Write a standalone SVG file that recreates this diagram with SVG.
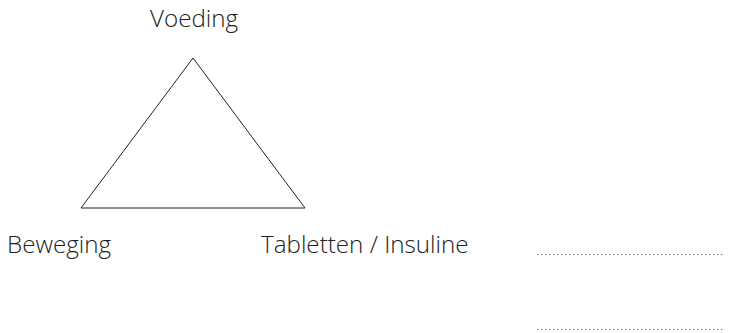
<svg xmlns="http://www.w3.org/2000/svg" width="730" height="333" viewBox="0 0 730 333">
<style>
.lbl{font-family:"Open Sans","Liberation Sans",sans-serif;font-size:24.2px;font-weight:300;fill:#222;}
.tri{fill:none;stroke:#222;stroke-width:1;}
.dots{stroke:#666;stroke-width:1.2;stroke-dasharray:1.3 2.7;}
</style>
<rect width="730" height="333" fill="#fff"/>
<g id="triangle"><polygon class="tri" points="193,58 81,208 305,208"/></g>
<g id="voeding"><text class="lbl" x="150" y="27">Voeding</text></g>
<g id="beweging"><text class="lbl" x="7" y="253">Beweging</text></g>
<g id="tabletten"><text class="lbl" x="261" y="253">Tabletten / Insuline</text></g>
<g id="lines">
<line class="dots" x1="537" y1="254.5" x2="724" y2="254.5"/>
<line class="dots" x1="537" y1="329.5" x2="724" y2="329.5"/>
</g>
</svg>
